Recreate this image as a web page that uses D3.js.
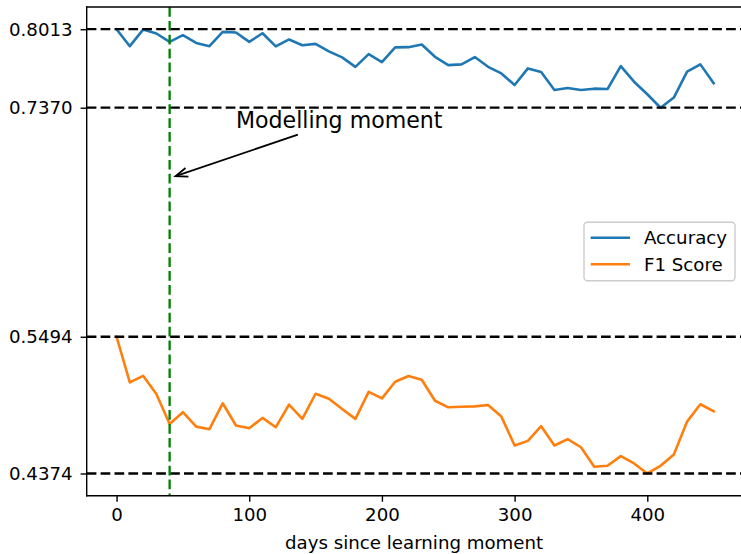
<!DOCTYPE html>
<html>
<head>
<meta charset="utf-8">
<script src="https://cdn.jsdelivr.net/npm/d3@7"></script>
<style>
  html, body { margin: 0; padding: 0; background: #fff; }
  svg { display: block; font-family: "DejaVu Sans", sans-serif; }
</style>
</head>
<body>
<svg id="chart" width="741" height="554"></svg>
<script>
// ---- data ----
const days = [0,10,20,30,40,50,60,70,80,90,100,110,120,130,140,150,160,170,180,190,
              200,210,220,230,240,250,260,270,280,290,300,310,320,330,340,350,360,370,380,390,
              400,410,420,430,440,450];
const accuracy = [0.8013,0.7874,0.8010,0.7978,0.7909,0.7964,0.7901,0.7874,0.7991,0.7986,
                  0.7909,0.7980,0.7872,0.7929,0.7882,0.7893,0.7831,0.7782,0.7705,0.7809,
                  0.7744,0.7864,0.7866,0.7888,0.7787,0.7719,0.7725,0.7785,0.7705,0.7651,
                  0.7556,0.7692,0.7662,0.7515,0.7531,0.7515,0.7526,0.7523,0.7711,0.7583,
                  0.7480,0.7370,0.7453,0.7665,0.7725,0.7570];
const f1Score = [0.5494,0.5120,0.5174,0.5025,0.4780,0.4876,0.4758,0.4737,0.4949,0.4767,
                 0.4745,0.4829,0.4753,0.4938,0.4821,0.5027,0.4986,0.4902,0.4821,0.5043,
                 0.4989,0.5125,0.5172,0.5142,0.4970,0.4916,0.4921,0.4924,0.4935,0.4840,
                 0.4603,0.4641,0.4761,0.4603,0.4655,0.4589,0.4429,0.4437,0.4516,0.4456,
                 0.4374,0.4437,0.4529,0.4799,0.4941,0.4884];
const seriesNames = ["Accuracy", "F1 Score"];
const refLines = [0.8013, 0.7370, 0.5494, 0.4374];
const yTickLabels = ["0.8013", "0.7370", "0.5494", "0.4374"];
const xTicks = [0, 100, 200, 300, 400];
const modelDay = 40;
const annotationText = "Modelling moment";
const annotationXY = [42, 0.68];
const annotationTextXY = [90, 0.72];
const xLabel = "days since learning moment";

// ---- layout ----
const colors = ["#1f77b4", "#ff7f0e"];
const svg = d3.select("#chart");
const L = 86.7, T = 7, R = 743.5, B = 495.7;
const FS = 18.2;

const dataMinX = d3.min(days), dataMaxX = d3.max(days);
const padX = (dataMaxX - dataMinX) * 0.05;
const allY = accuracy.concat(f1Score);
const yMin = d3.min(allY), yMax = d3.max(allY);
const padY = (yMax - yMin) * 0.05;

const x = d3.scaleLinear().domain([dataMinX - padX, dataMaxX + padX]).range([L, R]);
const y = d3.scaleLinear().domain([yMin - padY, yMax + padY]).range([B, T]);

const dash = "9.7,4.2";

// series lines
const line = d3.line().x((d, i) => x(days[i])).y(d => y(d));
[accuracy, f1Score].forEach((s, k) => {
  svg.append("path")
    .datum(s)
    .attr("d", line)
    .attr("fill", "none")
    .attr("stroke", colors[k])
    .attr("stroke-width", 2.6)
    .attr("stroke-linejoin", "round")
    .attr("stroke-linecap", "square");
});

// horizontal reference lines
svg.selectAll(".ref").data(refLines).enter().append("line")
  .attr("x1", L).attr("x2", R)
  .attr("y1", d => y(d)).attr("y2", d => y(d))
  .attr("stroke", "#000").attr("stroke-width", 2.3)
  .attr("stroke-dasharray", dash);

// vertical modelling line
svg.append("line")
  .attr("x1", x(modelDay)).attr("x2", x(modelDay))
  .attr("y1", T).attr("y2", B)
  .attr("stroke", "#008000").attr("stroke-width", 2.3)
  .attr("stroke-dasharray", dash);

// axes
const xAxis = d3.axisBottom(x).tickValues(xTicks).tickSize(6.1).tickPadding(6).tickFormat(d3.format("d"));
const gx = svg.append("g").attr("transform", `translate(0,${B})`).call(xAxis);
const yAxis = d3.axisLeft(y).tickValues(refLines).tickSize(6.1).tickPadding(8)
  .tickFormat((d, i) => yTickLabels[i]);
const gy = svg.append("g").attr("transform", `translate(${L},0)`).call(yAxis);
[gx, gy].forEach(g => {
  g.select(".domain").remove();
  g.selectAll(".tick line").attr("stroke", "#000").attr("stroke-width", 1.4);
  g.selectAll(".tick text").attr("fill", "#000").attr("font-size", FS)
    .attr("font-family", "DejaVu Sans");
});

// spines
svg.append("line").attr("x1", L).attr("x2", L).attr("y1", T).attr("y2", B)
  .attr("stroke", "#000").attr("stroke-width", 1.4).attr("stroke-linecap", "square");
svg.append("line").attr("x1", L).attr("x2", R).attr("y1", B).attr("y2", B)
  .attr("stroke", "#000").attr("stroke-width", 1.4).attr("stroke-linecap", "square");
svg.append("line").attr("x1", L).attr("x2", R).attr("y1", T).attr("y2", T)
  .attr("stroke", "#000").attr("stroke-width", 1.4).attr("stroke-linecap", "square");
svg.append("line").attr("x1", R).attr("x2", R).attr("y1", T).attr("y2", B)
  .attr("stroke", "#000").attr("stroke-width", 1.4);

// x label
svg.append("text")
  .attr("x", (L + R) / 2 - 1).attr("y", 549)
  .attr("text-anchor", "middle").attr("font-size", FS).attr("fill", "#000")
  .text(xLabel);

// annotation
const annFS = 22.1;
const tx = x(annotationTextXY[0]), ty = y(annotationTextXY[1]);
const annText = svg.append("text")
  .attr("x", tx).attr("y", ty)
  .attr("font-size", annFS).attr("fill", "#000")
  .text(annotationText);
const bb = annText.node().getBBox();
const cx = bb.x + bb.width / 2, cy = bb.y + bb.height / 2;
const px = x(annotationXY[0]), py = y(annotationXY[1]);
// clip start to the text bbox bottom edge
const bottom = bb.y + bb.height;
let t0 = (bottom - cy) / (py - cy);
let sx = cx + (px - cx) * t0, sy = cy + (py - cy) * t0;
const len = Math.hypot(px - sx, py - sy);
const ux = (px - sx) / len, uy = (py - sy) / len;
const shrink = 3.5;
sx += ux * shrink; sy += uy * shrink;
const ex = px - ux * shrink, ey = py - uy * shrink;
svg.append("line").attr("x1", sx).attr("y1", sy).attr("x2", ex).attr("y2", ey)
  .attr("stroke", "#000").attr("stroke-width", 1.8);
// open arrow head
const headL = 12, headW = 4.5;
const bx = ex - ux * headL, by = ey - uy * headL;
const nx = -uy, ny = ux;
svg.append("path")
  .attr("d", `M${bx + nx * headW},${by + ny * headW}L${ex},${ey}L${bx - nx * headW},${by - ny * headW}`)
  .attr("fill", "none").attr("stroke", "#000").attr("stroke-width", 1.8)
  .attr("stroke-linejoin", "miter");

// legend
const lg = svg.append("g");
lg.append("rect")
  .attr("x", 584).attr("y", 222.3).attr("width", 151).attr("height", 58.4)
  .attr("rx", 3.5).attr("ry", 3.5)
  .attr("fill", "#fff").attr("fill-opacity", 0.8)
  .attr("stroke", "#cccccc").attr("stroke-width", 1.4);
seriesNames.forEach((name, i) => {
  const ly = 237.7 + i * 26.6;
  lg.append("line").attr("x1", 590.7).attr("x2", 630).attr("y1", ly).attr("y2", ly)
    .attr("stroke", colors[i]).attr("stroke-width", 2.6);
  lg.append("text").attr("x", 644).attr("y", ly + 6.5)
    .attr("font-size", FS).attr("fill", "#000").text(name);
});
</script>
</body>
</html>
